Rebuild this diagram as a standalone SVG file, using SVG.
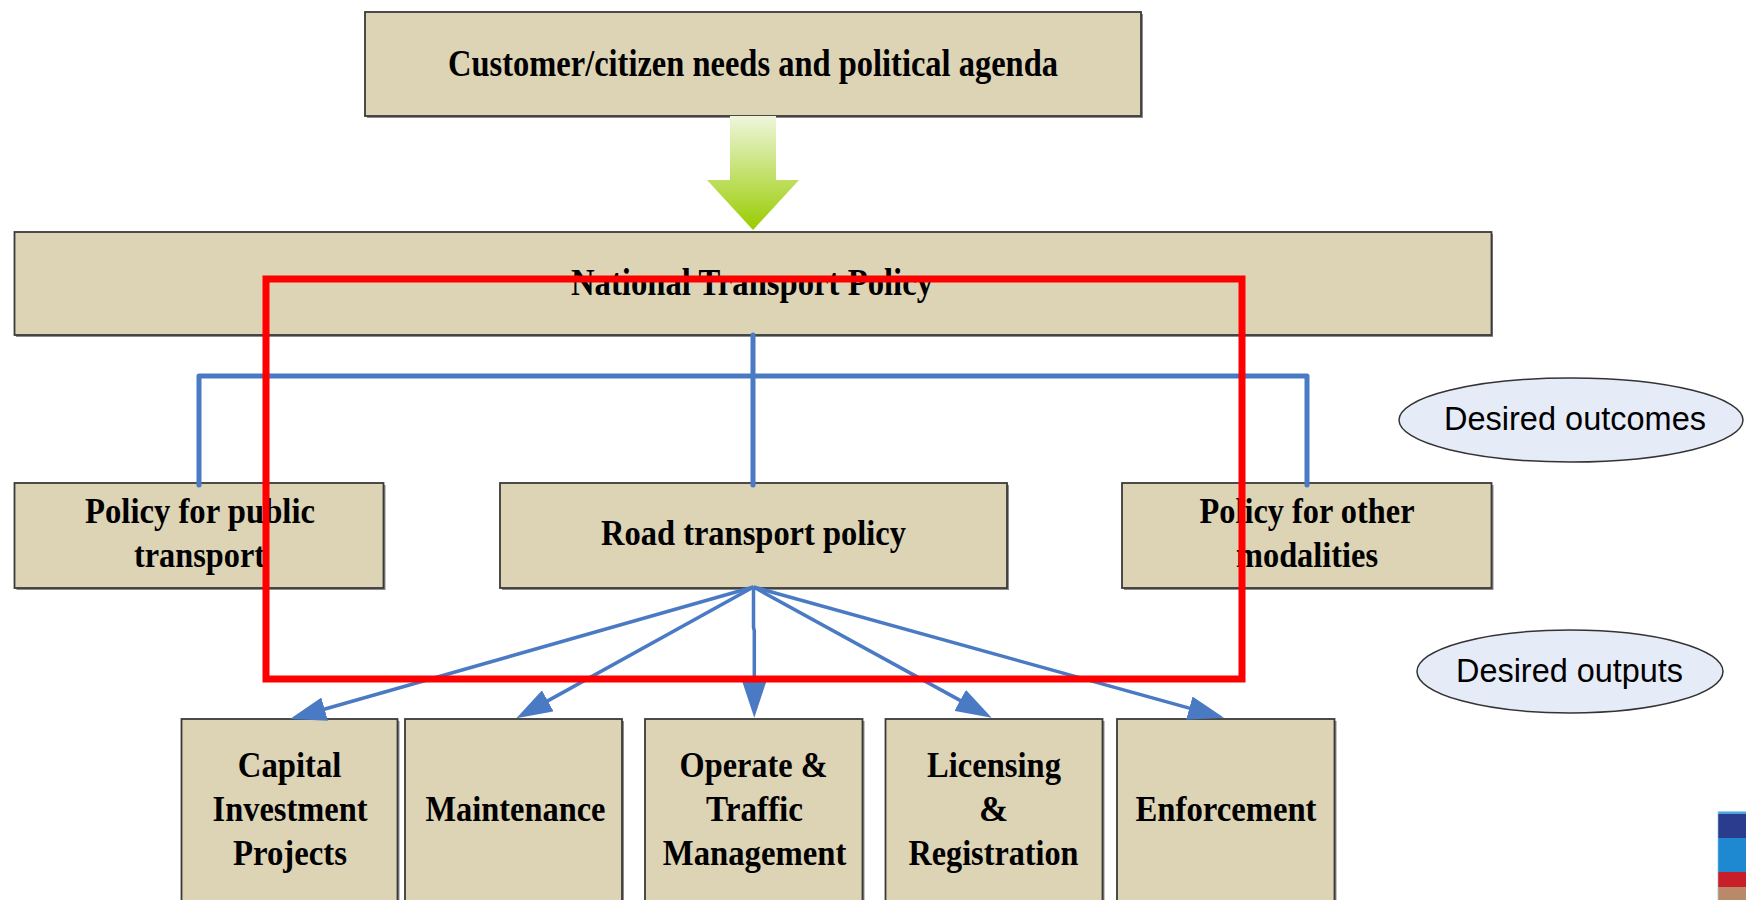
<svg xmlns="http://www.w3.org/2000/svg" width="1746" height="900" viewBox="0 0 1746 900">
<style>
.box{fill:#DDD3B5;stroke:#3a3a3a;stroke-width:1.8}
.sh{fill:#8c8c8c}
.t{font-family:"Liberation Serif","Times New Roman",serif;font-weight:bold;fill:#000;text-anchor:middle}
.s{font-family:"Liberation Sans",Arial,sans-serif;fill:#000;text-anchor:middle}
.ell{fill:#E6ECF7;stroke:#333;stroke-width:1.5}
.tree{fill:none;stroke:#4A7AC4;stroke-width:5;stroke-linecap:round;stroke-linejoin:round}
.fan{fill:none;stroke:#4A7AC4;stroke-width:3.5}
</style>
<defs>
<linearGradient id="g" x1="0" y1="0" x2="0" y2="1">
<stop offset="0" stop-color="#EEF6DC"/>
<stop offset="1" stop-color="#99CC00"/>
</linearGradient>
<marker id="ah" markerUnits="userSpaceOnUse" viewBox="0 0 36 24" refX="28" refY="12" markerWidth="36" markerHeight="24" orient="auto">
<path d="M0,0 L36,12 L0,24 z" fill="#4A7AC4"/>
</marker>
</defs>
<rect width="1746" height="900" fill="#fff"/>

<g id="node-top">
<rect class="sh" x="367" y="14" width="776" height="104"/>
<rect class="box" x="365" y="12" width="776" height="104"/>
<text class="t" x="753" y="76" font-size="38" textLength="610" lengthAdjust="spacingAndGlyphs">Customer/citizen needs and political agenda</text>
</g>

<g id="green-arrow">
<polygon points="730,116 776,116 776,180 799,180 753,230 707,180 730,180" fill="url(#g)"/>
</g>

<g id="node-national">
<rect class="sh" x="16" y="234" width="1477" height="103"/>
<rect class="box" x="14.5" y="232" width="1477" height="103"/>
<text class="t" x="752" y="295" font-size="38" textLength="362" lengthAdjust="spacingAndGlyphs">National Transport Policy</text>
</g>

<g id="node-public">
<rect class="sh" x="16.5" y="485" width="369" height="105"/>
<rect class="box" x="14.5" y="483" width="369" height="105"/>
<text class="t" x="200" y="523" font-size="35" textLength="230" lengthAdjust="spacingAndGlyphs">Policy for public</text>
<text class="t" x="199.5" y="567" font-size="35" textLength="131" lengthAdjust="spacingAndGlyphs">transport</text>
</g>

<g id="node-road">
<rect class="sh" x="502" y="485" width="507" height="105"/>
<rect class="box" x="500" y="483" width="507" height="105"/>
<text class="t" x="753.5" y="545" font-size="35" textLength="305" lengthAdjust="spacingAndGlyphs">Road transport policy</text>
</g>

<g id="node-other">
<rect class="sh" x="1124" y="485" width="369.5" height="105"/>
<rect class="box" x="1122" y="483" width="369.5" height="105"/>
<text class="t" x="1307" y="523" font-size="35" textLength="215" lengthAdjust="spacingAndGlyphs">Policy for other</text>
<text class="t" x="1307" y="567" font-size="35" textLength="142" lengthAdjust="spacingAndGlyphs">modalities</text>
</g>

<g id="node-outcomes">
<ellipse class="ell" cx="1571" cy="420" rx="172" ry="42"/>
<text class="s" x="1575" y="430" font-size="34" textLength="262" lengthAdjust="spacingAndGlyphs">Desired outcomes</text>
</g>

<g id="node-outputs">
<ellipse class="ell" cx="1570" cy="671.5" rx="153" ry="41.5"/>
<text class="s" x="1569.5" y="681.5" font-size="34" textLength="227" lengthAdjust="spacingAndGlyphs">Desired outputs</text>
</g>

<g id="node-capital">
<rect class="sh" x="183.5" y="721" width="216" height="190"/>
<rect class="box" x="181.5" y="719" width="216" height="190"/>
<text class="t" x="289.6" y="776.7" font-size="35" textLength="103.5" lengthAdjust="spacingAndGlyphs">Capital</text>
<text class="t" x="290" y="820.7" font-size="35" textLength="155" lengthAdjust="spacingAndGlyphs">Investment</text>
<text class="t" x="290" y="865" font-size="35" textLength="114" lengthAdjust="spacingAndGlyphs">Projects</text>
</g>

<g id="node-maintenance">
<rect class="sh" x="407" y="721" width="217" height="190"/>
<rect class="box" x="405" y="719" width="217" height="190"/>
<text class="t" x="515.5" y="820.7" font-size="35" textLength="180" lengthAdjust="spacingAndGlyphs">Maintenance</text>
</g>

<g id="node-operate">
<rect class="sh" x="647" y="721" width="217.5" height="190"/>
<rect class="box" x="645" y="719" width="217.5" height="190"/>
<text class="t" x="753.6" y="776.7" font-size="35" textLength="148" lengthAdjust="spacingAndGlyphs">Operate &amp;</text>
<text class="t" x="754.5" y="820.7" font-size="35" textLength="97" lengthAdjust="spacingAndGlyphs">Traffic</text>
<text class="t" x="754.6" y="865" font-size="35" textLength="183.6" lengthAdjust="spacingAndGlyphs">Management</text>
</g>

<g id="node-licensing">
<rect class="sh" x="887.5" y="721" width="217" height="190"/>
<rect class="box" x="885.5" y="719" width="217" height="190"/>
<text class="t" x="994" y="776.7" font-size="35" textLength="134" lengthAdjust="spacingAndGlyphs">Licensing</text>
<text class="t" x="993.7" y="820.7" font-size="35">&amp;</text>
<text class="t" x="993.5" y="865" font-size="35" textLength="170" lengthAdjust="spacingAndGlyphs">Registration</text>
</g>

<g id="node-enforcement">
<rect class="sh" x="1119" y="721" width="217.5" height="190"/>
<rect class="box" x="1117" y="719" width="217.5" height="190"/>
<text class="t" x="1226" y="820.7" font-size="35" textLength="181" lengthAdjust="spacingAndGlyphs">Enforcement</text>
</g>

<g id="connectors">
<path class="tree" d="M753,335 V485 M199,485 V376 H1307 V485"/>
<path class="fan" d="M753.5,587 L297.7,716.8" marker-end="url(#ah)"/>
<path class="fan" d="M753.5,587 L523.3,714.4" marker-end="url(#ah)"/>
<path class="fan" d="M753.5,587 L753.5,627 L754.3,631 L754.3,709.7" marker-end="url(#ah)"/>
<path class="fan" d="M753.5,587 L984.7,713.9" marker-end="url(#ah)"/>
<path class="fan" d="M753.5,587 L1216.3,715.6" marker-end="url(#ah)"/>
</g>

<g id="logo">
<rect x="1717.5" y="811.5" width="28.5" height="3" fill="#4FA3DF"/>
<rect x="1717.5" y="814" width="28.5" height="24" fill="#2B3C8E"/>
<rect x="1717.5" y="838" width="28.5" height="34" fill="#1E88D0"/>
<rect x="1717.5" y="872" width="28.5" height="15" fill="#C81E2A"/>
<rect x="1717.5" y="887" width="28.5" height="13" fill="#B98A6A"/>
<rect x="1717" y="811.5" width="1.2" height="88.5" fill="#CFEFF5"/>
</g>

<g id="highlight">
<rect x="266" y="279" width="976" height="400" fill="none" stroke="#FF0000" stroke-width="7"/>
</g>
</svg>
